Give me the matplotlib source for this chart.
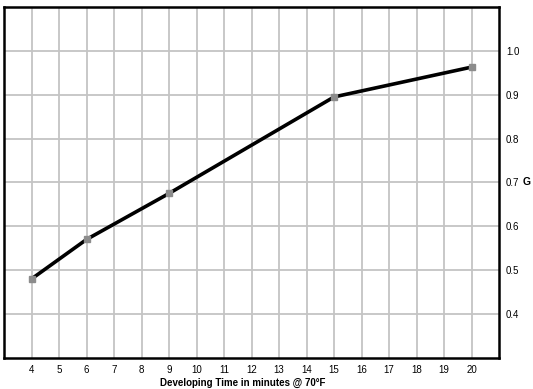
import matplotlib
matplotlib.use('Agg')
from matplotlib import pyplot as plt
import numpy as np

# developing time (min) vs average gradient G
dev_time = [4, 6, 9, 15, 20]
g_values = [0.48, 0.57, 0.675, 0.895, 0.963]

x_ticks = list(range(4, 21))
y_ticks = [0.4, 0.5, 0.6, 0.7, 0.8, 0.9, 1.0]

plt.rcParams['font.family'] = ['Liberation Sans', 'DejaVu Sans']

fig = plt.figure(figsize=(5.33, 3.89), dpi=100)
ax = fig.add_axes([0.0075, 0.08, 0.929, 0.902])

ax.set_xlim(3, 21)
ax.set_ylim(0.3, 1.1)

ax.set_xticks(x_ticks)
ax.set_yticks(y_ticks)
ax.set_xticklabels([str(t) for t in x_ticks], fontsize=7)
ax.set_yticklabels(['%.1f' % t for t in y_ticks], fontsize=7)
ax.yaxis.tick_right()
ax.tick_params(axis='both', length=0, pad=5)

ax.grid(True, color='#c4c4c4', linewidth=1.3)
ax.set_axisbelow(True)

for side in ['top', 'bottom', 'left', 'right']:
    ax.spines[side].set_linewidth(1.8)
    ax.spines[side].set_color('black')

ax.plot(dev_time, g_values, color='black', linewidth=2.6, marker='s',
        markersize=5, markerfacecolor='#8c8c8c', markeredgecolor='#8c8c8c', zorder=3)

ax.set_xlabel('Developing Time in minutes @ 70°F', fontsize=7, fontweight='bold')
ax.xaxis.set_label_coords(0.483, -0.058)
ax.text(1.064, 0.5, 'G', transform=ax.transAxes, fontsize=7.5, fontweight='bold',
        va='center', ha='right')

fig.savefig('out.png', dpi=100)
plt.close()
